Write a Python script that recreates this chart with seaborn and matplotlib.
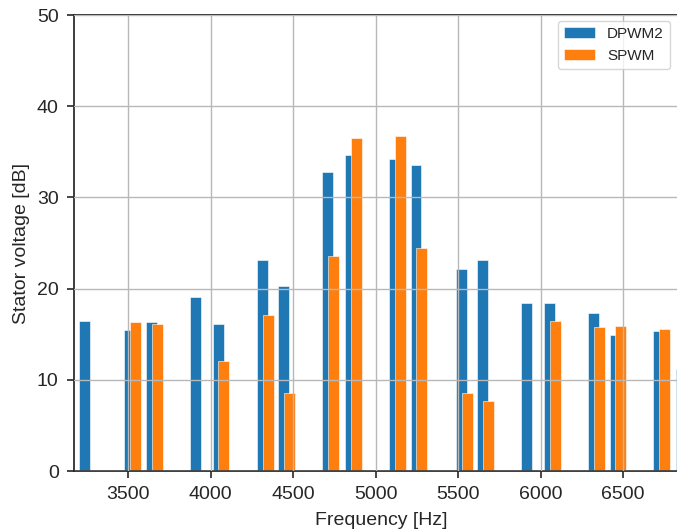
import numpy as np
import matplotlib
matplotlib.use("Agg")
import matplotlib.pyplot as plt
import seaborn as sns

# harmonic frequencies [Hz] and amplitudes [dB]
dpwm2_freq = [3235, 3509, 3641, 3907, 4045, 4313, 4442, 4709, 4847, 5115,
              5244, 5521, 5648, 5916, 6054, 6321, 6451, 6715, 6853]
dpwm2_db = [16.4, 15.5, 16.3, 19.1, 16.1, 23.1, 20.3, 32.75, 34.65, 34.2,
            33.6, 22.2, 23.1, 18.45, 18.45, 17.35, 14.9, 15.3, 11.15]

spwm_freq = [3544, 3675, 4079, 4348, 4477, 4744, 4881, 5148, 5277, 5554,
             5683, 6088, 6357, 6486, 6752]
spwm_db = [16.3, 16.1, 12.05, 17.1, 8.6, 23.6, 36.55, 36.7, 24.4, 8.5,
           7.7, 16.4, 15.8, 15.95, 15.6]

x_ticks = [3500, 4000, 4500, 5000, 5500, 6000, 6500]
y_ticks = [0, 10, 20, 30, 40, 50]

bar_hz = 66  # bar width in Hz

sns.set_theme(style="whitegrid")
plt.rcParams['font.family'] = ['Liberation Sans', 'DejaVu Sans']
plt.rcParams['axes.edgecolor'] = '#262626'
plt.rcParams['grid.color'] = '#b8b8b8'

fig = plt.figure(figsize=(6.77, 5.32), dpi=100)
ax = fig.add_axes([74 / 677, 61 / 532, 0.9087, 456 / 532])

w_blue = bar_hz / np.min(np.diff(np.unique(dpwm2_freq)))
w_orange = bar_hz / np.min(np.diff(np.unique(spwm_freq)))

sns.barplot(x=dpwm2_freq, y=dpwm2_db, native_scale=True, width=w_blue,
            color='#1f77b4', saturation=1, errorbar=None, label='DPWM2',
            edgecolor='white', linewidth=0.4, ax=ax)
sns.barplot(x=spwm_freq, y=spwm_db, native_scale=True, width=w_orange,
            color='#ff7f0e', saturation=1, errorbar=None, label='SPWM',
            edgecolor='white', linewidth=0.4, ax=ax)

ax.set_xlim(3171, 6900)
ax.set_ylim(0, 50)
ax.set_xticks(x_ticks)
ax.set_yticks(y_ticks)
ax.grid(True, color='#b8b8b8', linewidth=1)
ax.set_axisbelow(False)
for b in ax.patches:
    b.set_zorder(1)
ax.tick_params(axis='both', which='major', labelsize=14, length=5, width=1.2,
               color='#262626', labelcolor='#262626', pad=6, bottom=True, left=True)
ax.set_xlabel('Frequency [Hz]', fontsize=14, color='#262626', labelpad=6)
ax.set_ylabel('Stator voltage [dB]', fontsize=14, color='#262626', labelpad=5)

ax.legend(loc='upper right', bbox_to_anchor=(670 / 677, 1 - 21 / 532),
          bbox_transform=fig.transFigure, borderaxespad=0, fontsize=11,
          frameon=True)

plt.savefig('out.png', dpi=100)
